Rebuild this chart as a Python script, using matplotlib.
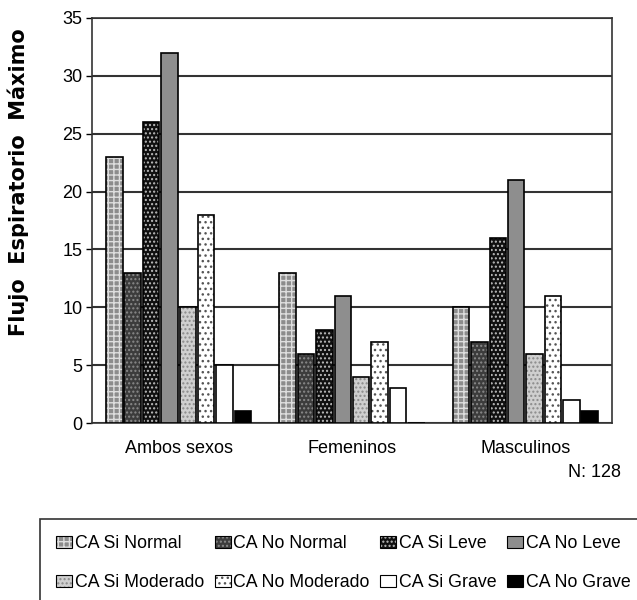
import matplotlib
matplotlib.use("Agg")
import matplotlib.pyplot as plt
from matplotlib.patches import Patch
import numpy as np

categories = ["Ambos sexos", "Femeninos", "Masculinos"]
series = ["CA Si Normal", "CA No Normal", "CA Si Leve", "CA No Leve",
          "CA Si Moderado", "CA No Moderado", "CA Si Grave", "CA No Grave"]
values = [
    [23, 13, 10],   # CA Si Normal
    [13, 6, 7],     # CA No Normal
    [26, 8, 16],    # CA Si Leve
    [32, 11, 21],   # CA No Leve
    [10, 4, 6],     # CA Si Moderado
    [18, 7, 11],    # CA No Moderado
    [5, 3, 2],      # CA Si Grave
    [1, 0, 1],      # CA No Grave
]
yticks = [0, 5, 10, 15, 20, 25, 30, 35]

# face colour, hatch, hatch colour
styles = [
    ("#8c8c8c", "+++", "#dedede"),
    ("#3c3c3c", "....", "#8a8a8a"),
    ("#101010", "....", "#bdbdbd"),
    ("#8e8e8e", "", "#8e8e8e"),
    ("#cfcfcf", "....", "#8a8a8a"),
    ("#ffffff", "...", "#555555"),
    ("#ffffff", "", "#ffffff"),
    ("#000000", "", "#000000"),
]

font = ["Liberation Sans", "DejaVu Sans"]
plt.rcParams["font.family"] = font
plt.rcParams["hatch.linewidth"] = 1.0

fig = plt.figure(figsize=(6.37, 6.0), dpi=100)
ax = fig.add_axes([0.1444, 0.295, 0.8164, 0.675])

x = np.arange(len(categories))
slot = 0.106
bw = 0.095
handles = []
for i, (name, vals) in enumerate(zip(series, values)):
    fc, hatch, hc = styles[i]
    pos = x + (i - 3.5) * slot
    ax.bar(pos, vals, bw, color=fc, hatch=hatch, edgecolor=hc, lw=0, zorder=3)
    ax.bar(pos, vals, bw, facecolor="none", edgecolor="black", lw=1.2, zorder=4)
    handles.append((Patch(facecolor=fc, hatch=hatch, edgecolor=hc, lw=0),
                    Patch(facecolor="none", edgecolor="black", lw=0.8)))

ax.set_xlim(-0.5, 2.5)
ax.set_ylim(0, 35)
ax.set_yticks(yticks)
ax.set_xticks(x)
ax.set_xticklabels(categories)
ax.tick_params(axis="both", labelsize=13)
ax.tick_params(axis="x", length=0, pad=12)
ax.tick_params(axis="y", length=4, width=1, pad=3)
ax.yaxis.grid(True, color="#333333", lw=1.5, zorder=0)
ax.set_axisbelow(True)
for sp in ax.spines.values():
    sp.set_linewidth(1.2)
    sp.set_color("#333333")

fig.text(0.028, 0.697, "Flujo  Espiratorio  Máximo", rotation=90, ha="center", va="center",
         fontsize=15, fontweight="bold", family=["DejaVu Sans"])
fig.text(0.975, 0.212, "N: 128", ha="right", va="center", fontsize=13)

# legend fills column by column: reorder so it reads row by row
order = [0, 4, 1, 5, 2, 6, 3, 7]
leg = fig.legend([handles[k] for k in order], [series[k] for k in order], ncol=4,
                 loc="upper left", bbox_to_anchor=(40 / 637, 1 - 519 / 600),
                 borderaxespad=0, prop={"size": 12.8},
                 handlelength=0.9, handleheight=0.7, handletextpad=0.15,
                 columnspacing=0.6, labelspacing=1.25, borderpad=0.9,
                 fancybox=False, edgecolor="#333333", framealpha=1)
leg.get_frame().set_linewidth(1.2)

fig.savefig("out.png", dpi=100)
